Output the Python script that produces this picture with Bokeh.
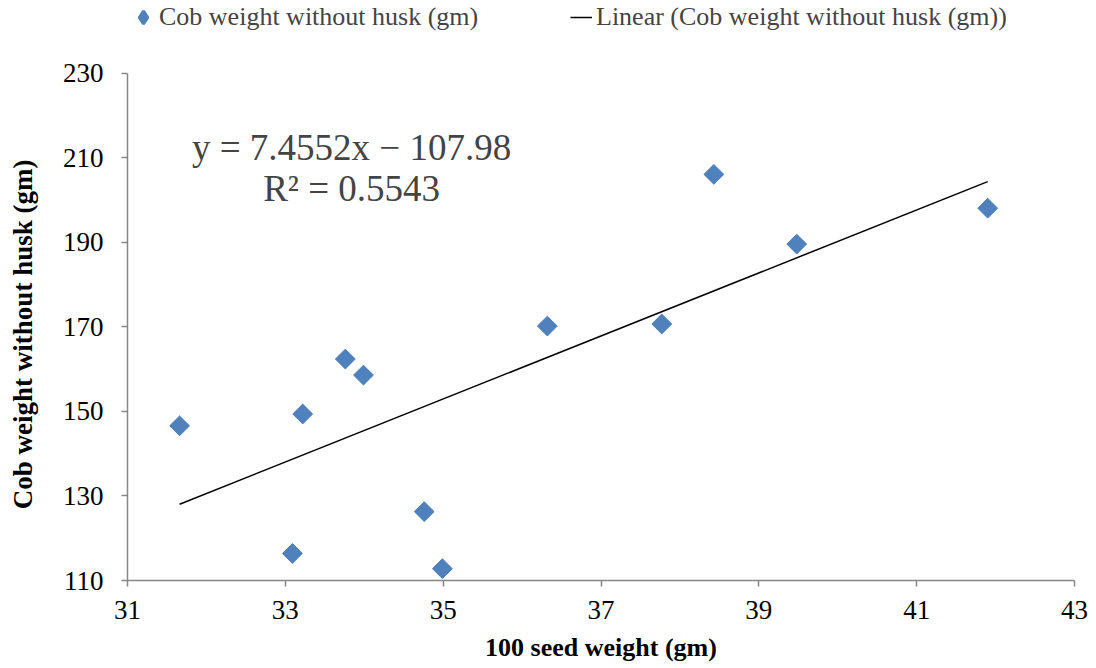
import math
from bokeh.plotting import figure
from bokeh.models import Legend, LegendItem, Label, FixedTicker, ColumnDataSource
from bokeh.embed import file_html
from bokeh.resources import INLINE

# Data
seed_weight = [31.66, 33.09, 33.22, 33.76, 33.99, 34.76, 34.99, 36.32, 37.77, 38.43, 39.48, 41.90]
cob_weight = [146.6, 116.4, 149.4, 162.4, 158.6, 126.3, 112.8, 170.2, 170.7, 206.1, 189.6, 198.1]
slope = 7.4552
intercept = -107.98
r_squared = 0.5543
x_ticks = [31, 33, 35, 37, 39, 41, 43]
y_ticks = [110, 130, 150, 170, 190, 210, 230]

FONT = "Liberation Serif"
AXIS_COLOR = "#868686"
BLUE = "#4F81BD"

# layout: plot area 508 px tall for 110..230, plus 73 px headroom for the legend
PLOT_H = 508
HEADROOM = 73
y_top = y_ticks[-1] + HEADROOM * (y_ticks[-1] - y_ticks[0]) / PLOT_H

p = figure(width=1088, height=664, x_range=(x_ticks[0], x_ticks[-1]), y_range=(y_ticks[0], y_top),
           output_backend="svg", toolbar_location=None,
           min_border_left=127, min_border_right=14, min_border_top=0, min_border_bottom=83)
p.outline_line_color = None
p.xgrid.visible = False
p.ygrid.visible = False

src = ColumnDataSource(dict(x=seed_weight, y=cob_weight))
pts = p.scatter("x", "y", source=src, marker="square", size=14, angle=math.pi / 4,
                fill_color=BLUE, line_color="#4A7EBB")
# legend swatch only (NaN position, never drawn in the plot): diamond marker
swatch = p.scatter(x=[float("nan")], y=[float("nan")], marker="diamond",
                   fill_color=BLUE, line_color=BLUE, line_width=3)

xmin, xmax = min(seed_weight), max(seed_weight)
trend = p.line([xmin, xmax], [slope * xmin + intercept, slope * xmax + intercept],
               line_color="black", line_width=1.5)

for ax in (p.xaxis, p.yaxis):
    ax.axis_line_color = AXIS_COLOR
    ax.axis_line_width = 1.5
    ax.major_tick_line_color = AXIS_COLOR
    ax.major_tick_line_width = 1.5
    ax.major_tick_in = 0
    ax.major_tick_out = 6
    ax.minor_tick_line_color = None
    ax.major_label_text_font = FONT
    ax.major_label_text_font_size = "27px"
    ax.major_label_text_color = "black"
    ax.axis_label_text_font = FONT
    ax.axis_label_text_font_size = "26px"
    ax.axis_label_text_font_style = "bold"
    ax.axis_label_text_color = "black"

p.xaxis.ticker = FixedTicker(ticks=x_ticks)
p.yaxis.ticker = FixedTicker(ticks=y_ticks)
p.yaxis.bounds = (y_ticks[0], y_ticks[-1])
p.xaxis.axis_label = "100 seed weight (gm)"
# trailing no-break spaces keep the label centred on the 110..230 span
p.yaxis.axis_label = "Cob weight without husk (gm)" + "\u00a0" * 13
p.yaxis.axis_label_text_font_size = "27px"
p.xaxis.major_label_standoff = 14
p.yaxis.major_label_standoff = 18
p.xaxis.axis_label_standoff = 11
p.yaxis.axis_label_standoff = 22

eq_x = 33.84
p.add_layout(Label(x=eq_x, y=212.5, text="y = 7.4552x − 107.98", text_align="center",
                   text_baseline="middle", text_font=FONT, text_font_size="37px"))
p.add_layout(Label(x=eq_x, y=202.8, text=f"R² = {r_squared}", text_align="center",
                   text_baseline="middle", text_font=FONT, text_font_size="37px"))

leg1 = Legend(items=[LegendItem(label="Cob weight without husk (gm)", renderers=[swatch])],
              location=(0, 547), orientation="horizontal", padding=0, margin=0,
              glyph_width=32, glyph_height=32, label_height=26, label_standoff=0,
              label_text_font=FONT, label_text_font_size="26px",
              border_line_color=None, background_fill_alpha=0)
leg2 = Legend(items=[LegendItem(label="Linear (Cob weight without husk (gm))", renderers=[trend])],
              location=(443, 548), orientation="horizontal", padding=0, margin=0,
              glyph_width=22, glyph_height=30, label_height=26, label_standoff=4,
              label_text_font=FONT, label_text_font_size="26px",
              border_line_color=None, background_fill_alpha=0)
p.add_layout(leg1, "center")
p.add_layout(leg2, "center")

open("out.html", "w").write(file_html(p, INLINE))
